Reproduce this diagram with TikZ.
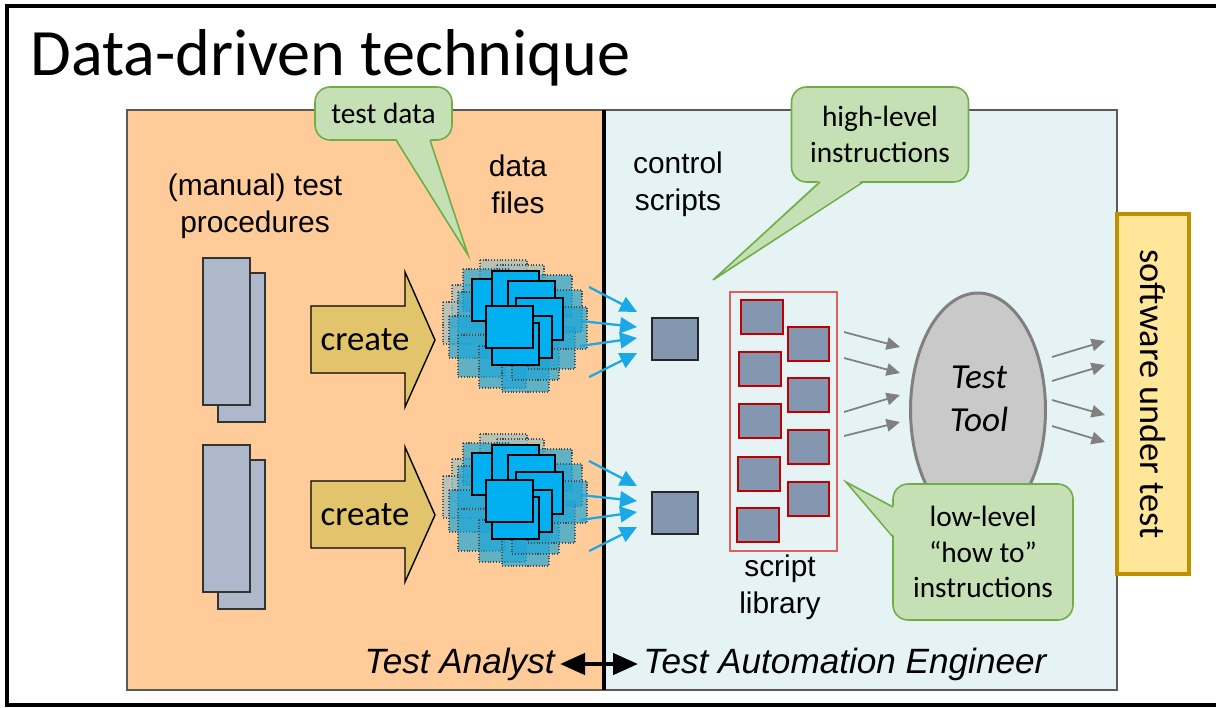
\documentclass[tikz,border=0pt]{standalone}
\usepackage{fontspec}
\setmainfont{Carlito}
\newfontfamily\arialfont{Liberation Sans}
\usetikzlibrary{arrows.meta,calc,shapes.geometric}

\definecolor{peach}{HTML}{FFCC99}
\definecolor{iceblue}{HTML}{E5F3F5}
\definecolor{docgray}{HTML}{ADB9CA}
\definecolor{slate}{HTML}{8497B0}
\definecolor{gold}{HTML}{E2C46C}
\definecolor{datablue}{HTML}{00B0F0}
\definecolor{fadeblue}{HTML}{1FA6D6}
\definecolor{fadegray}{HTML}{9DBFC0}
\definecolor{arrowblue}{HTML}{1BA8E6}
\definecolor{callfill}{HTML}{C5E0B4}
\definecolor{callline}{HTML}{70AD47}
\definecolor{sutfill}{HTML}{FFE699}
\definecolor{sutline}{HTML}{BF9000}
\definecolor{toolfill}{HTML}{C9C9C9}
\definecolor{libred}{HTML}{E06060}
\definecolor{boxred}{HTML}{C00000}

\tikzset{
  lbl/.style={font=\arialfont\fontsize{17}{21}\selectfont, align=center, inner sep=0pt},
  role/.style={font=\arialfont\itshape\fontsize{20}{24}\selectfont, inner sep=0.1cm},
  callbox/.style={font=\fontsize{16.7}{20.4}\selectfont, align=center, fill=callfill,
    draw=callline, line width=0.9pt, rounded corners=0.3cm, inner sep=0pt},
  doc/.style={fill=docgray, draw=black!80, line width=0.8pt},
  createarr/.style={fill=gold, draw=black, line width=0.8pt},
  fadesq/.style={draw=black!70, densely dotted, line width=0.6pt, fill opacity=0.7},
  solidsq/.style={fill=datablue, draw=black, line width=1.1pt},
  ctrl/.style={fill=slate, draw=black!85, line width=1.1pt, minimum width=0.92cm, minimum height=0.84cm, inner sep=0pt},
  libsq/.style={fill=slate, draw=boxred, line width=0.9pt},
  bluearr/.style={draw=arrowblue, line width=1.3pt, -{Triangle[length=0.34cm, width=0.32cm]}},
  grayarr/.style={draw=black!50, line width=1pt, -{Triangle[length=0.27cm, width=0.25cm]}},
}

\begin{document}
\begin{tikzpicture}[x=0.02cm, y=-0.02cm]
\useasboundingbox (0,0) rectangle (1216,707);

% frame and title
\draw[line width=2.2pt] (1216,6) -- (7,6) -- (7,705) -- (1216,705);
\node[anchor=base west, inner sep=0pt, font=\fontsize{37.7}{40}\selectfont] (title) at (30,75) {Data-driven technique};

% two panels
\draw[fill=peach, draw=black!65, line width=0.8pt] (127,110) rectangle (604,690);
\draw[fill=iceblue, draw=black!65, line width=0.8pt] (604,110) rectangle (1117,690);
\draw[line width=2.3pt] (604,110) -- (604,690);

\node[lbl] (proc) at (255,206) {(manual) test\\procedures};
\node[lbl] (dfiles) at (518,184) {data\\files};
\node[lbl] (cscripts) at (678,184) {control\\scripts};
\node[lbl] (slib) at (780,587) {script\\library};

% manual test procedures
\foreach \dy in {0,187} {
  \begin{scope}[shift={(0,\dy)}]
    \filldraw[doc] (218,273) rectangle (265,422);
    \filldraw[doc] (203,258) rectangle (250,405);
  \end{scope}
}

% create arrows
\foreach \dy/\nm in {0/crA,175/crB} {
  \begin{scope}[shift={(0,\dy)}]
    \filldraw[createarr] (311,306) -- (405,306) -- (405,272) -- (435,340) -- (405,407) -- (405,373) -- (311,373) -- cycle;
    \node[font=\fontsize{19.8}{22}\selectfont, inner sep=0pt] (\nm) at (365,340) {create};
  \end{scope}
}

% data files
\foreach \dy in {0,174} {
  \begin{scope}[shift={(0,\dy)}]
    \foreach \x/\y in {480/260,497/265,452/285,443/302}
      \draw[fadesq, fill=fadegray] (\x,\y) rectangle ++(47,42);
    \foreach \x/\y in {463/269,458/292,449/316,458/335,479/346,502/350,512/338,528/327,525/275,535/290,540/307}
      \draw[fadesq, fill=fadeblue] (\x,\y) rectangle ++(47,42);
    \foreach \x/\y in {472/279,492/271,508/281,516/298,505/316,492/323,486/306}
      \draw[solidsq] (\x,\y) rectangle ++(47,42);
  \end{scope}
}

% control scripts
\node[ctrl] (cs1) at (675,339) {};
\node[ctrl] (cs2) at (675,513) {};
\foreach \n in {1,2}
  \foreach \sx/\sy/\ex/\ey in {-62/-52/-14/-27,-71/-18/-14/-12,-71/7/-14/-1,-62/38/-14/14}
    \draw[bluearr] ($(cs\n.west)+(\sx,\sy)$) -- ($(cs\n.west)+(\ex,\ey)$);

% script library
\draw[draw=libred, line width=0.7pt] (730,292) rectangle (837,551);
\foreach \x/\y in {741/300,739/352,739/404,738/457,737/508}
  \draw[libsq] (\x,\y) rectangle ++(42,34);
\foreach \y in {327,378,430,482}
  \draw[libsq] (788,\y) rectangle ++(41,34);

% test tool
\node[ellipse, fill=toolfill, draw=black!50, line width=1.7pt, minimum width=2.7cm, minimum height=4.68cm,
  inner sep=0pt] (tool) at (978,410) {};
\node[align=center, inner sep=0pt, font=\itshape\fontsize{20}{24.4}\selectfont] (tooltxt) at (979,399) {Test\\Tool};
\foreach \sx/\sy/\ex/\ey in {-134/-78/-78/-63,-134/-52/-78/-37,-134/2/-78/-15,-134/26/-78/12}
  \draw[grayarr] ($(tool)+(\sx,\sy)$) -- ($(tool)+(\ex,\ey)$);
\foreach \sx/\sy/\ex/\ey in {74/-53/127/-69,74/-29/127/-45,74/-10/127/5,74/16/127/32}
  \draw[grayarr] ($(tool)+(\sx,\sy)$) -- ($(tool)+(\ex,\ey)$);

% software under test
\node[fill=sutfill, draw=sutline, line width=2.2pt, minimum width=7.2cm, minimum height=1.44cm,
  rotate=-90, font=\fontsize{20.7}{24}\selectfont] (sut) at (1153,394) {software under test};

% callouts
\node[callbox, minimum width=2.74cm, minimum height=1.06cm] (tdata) at (383.5,113.5) {test data};
\coordinate (tdtip) at (468,255);
\fill[callfill] (396,138) -- (tdtip) -- (430,138) -- cycle;
\draw[callline, line width=0.9pt] (396,140) -- (tdtip) -- (430,140);

\node[callbox, minimum width=3.54cm, minimum height=1.9cm] (hilevel) at (880,134.5) {high-level\\instructions};
\coordinate (hltip) at (713,280);
\fill[callfill] (820,180) -- (hltip) -- (863,180) -- cycle;
\draw[callline, line width=0.9pt] (820,182) -- (hltip) -- (863,182);

\node[callbox, minimum width=3.6cm, minimum height=2.72cm] (lolevel) at (983,552) {low-level\\“how to”\\instructions};
\coordinate (lltip) at (846,482);
\fill[callfill] (895,507) -- (lltip) -- (895,537) -- cycle;
\draw[callline, line width=0.9pt] (893,507) -- (lltip) -- (893,537);

% roles
\node[role, anchor=east] (analyst) at (560,664) {Test Analyst};
\node[role, anchor=west] (engineer) at (638,664) {Test Automation Engineer};
\draw[line width=2.6pt, {Triangle[length=0.5cm, width=0.42cm]}-{Triangle[length=0.5cm, width=0.42cm]}] (analyst) -- (engineer);

\end{tikzpicture}
\end{document}
